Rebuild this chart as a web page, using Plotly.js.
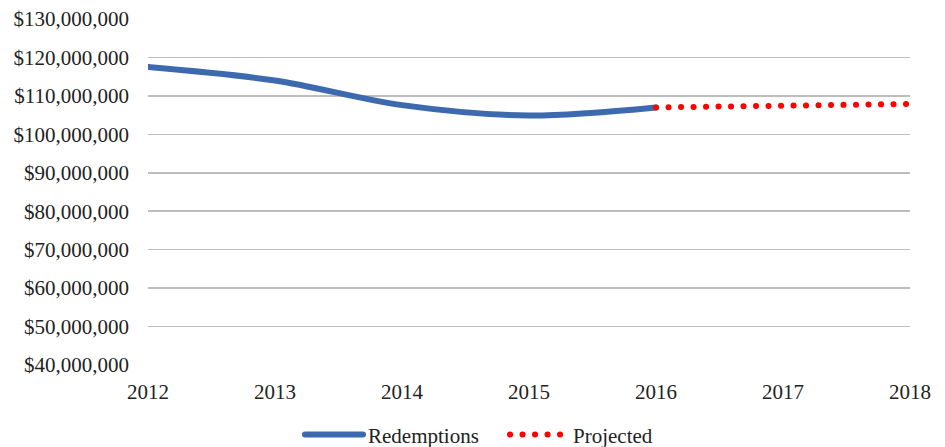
<!DOCTYPE html>
<html>
<head>
<meta charset="utf-8">
<script src="https://cdn.plot.ly/plotly-3.0.1.min.js"></script>
<style>
html,body{margin:0;padding:0;background:#fff;}
#chart{width:945px;height:447px;}
.js-line{stroke-linecap:round !important;}
</style>
</head>
<body>
<div id="chart"></div>
<script>
const years = [2012, 2013, 2014, 2015, 2016];
const redemptions = [117500000, 114000000, 107600000, 104900000, 107000000];
const projYears = [2016, 2017, 2018];
const projected = [107000000, 107400000, 107900000];
const yTicks = [40000000, 50000000, 60000000, 70000000, 80000000, 90000000, 100000000, 110000000, 120000000, 130000000];
const yTickText = yTicks.map(v => '$' + v.toLocaleString('en-US'));
const xTicks = [2012, 2013, 2014, 2015, 2016, 2017, 2018];

const font = {family: '"Liberation Serif", "Times New Roman", serif', size: 21, color: '#222'};

const traces = [
  {x: years, y: redemptions, name: 'Redemptions', mode: 'lines', legend: 'legend',
   line: {color: '#3D69AE', width: 6, shape: 'spline', smoothing: 0.9}},
  {x: projYears, y: projected, name: 'Projected', mode: 'lines', legend: 'legend2',
   line: {color: '#FF0000', width: 6, dash: '0.1px,12.4px'}}
];

const legBase = {orientation: 'h', xref: 'container', xanchor: 'left',
                 yref: 'container', y: 0.027, yanchor: 'middle', font: font, itemwidth: 58};

const layout = {
  width: 945, height: 447,
  margin: {l: 148, r: 35, t: 19, b: 82},
  paper_bgcolor: '#fff', plot_bgcolor: '#fff',
  font: font,
  showlegend: true,
  legend: Object.assign({}, legBase, {x: 300 / 945}),
  legend2: Object.assign({}, legBase, {x: 505 / 945}),
  xaxis: {range: [2012, 2018], tickvals: xTicks, ticktext: xTicks.map(String),
          showgrid: false, zeroline: false, showline: false, ticks: '', ticklabelstandoff: 12,
          fixedrange: true},
  yaxis: {range: [40000000, 130000000], tickvals: yTicks, ticktext: yTickText,
          showgrid: true, gridcolor: '#BDBDBD', gridwidth: 1.5, zeroline: false, showline: false,
          ticks: '', ticklabelstandoff: 18, fixedrange: true}
};

Plotly.newPlot('chart', traces, layout, {displayModeBar: false, staticPlot: true});
</script>
</body>
</html>
